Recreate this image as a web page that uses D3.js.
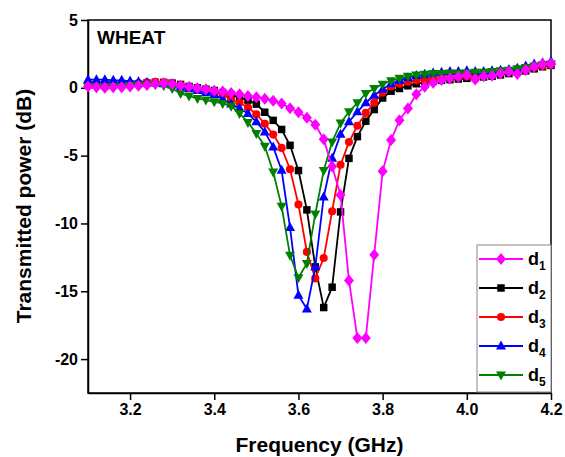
<!DOCTYPE html>
<html><head><meta charset="utf-8">
<script src="https://cdn.jsdelivr.net/npm/d3@7"></script>
<style>body{margin:0;background:#fff}svg{display:block}text{font-family:"Liberation Sans",Arial,sans-serif;font-weight:bold}</style>
</head><body>
<script>
const freq = [3.10,3.12,3.14,3.16,3.18,3.20,3.22,3.24,3.26,3.28,3.30,3.32,3.34,3.36,3.38,3.40,3.42,3.44,3.46,3.48,3.50,3.52,3.54,3.56,3.58,3.60,3.62,3.64,3.66,3.68,3.70,3.72,3.74,3.76,3.78,3.80,3.82,3.84,3.86,3.88,3.90,3.92,3.94,3.96,3.98,4.00,4.02,4.04,4.06,4.08,4.10,4.12,4.14,4.16,4.18,4.20];
const d1 = [0.1,0.05,0.0,0.05,0.05,0.1,0.15,0.2,0.3,0.33,0.28,0.16,0.08,-0.04,-0.11,-0.21,-0.28,-0.38,-0.48,-0.6,-0.7,-0.8,-0.96,-1.15,-1.5,-1.8,-2.2,-2.72,-3.8,-5.8,-7.9,-14.2,-18.45,-18.45,-12.3,-6.16,-3.85,-2.39,-1.53,-0.47,0.07,0.37,0.57,0.69,0.81,0.94,0.62,0.86,0.89,1.06,1.18,1.01,1.31,1.55,1.75,1.8];
const d2 = [0.2,0.2,0.15,0.2,0.25,0.25,0.3,0.35,0.4,0.4,0.35,0.25,0.1,0.0,-0.1,-0.2,-0.35,-0.5,-0.71,-0.91,-1.2,-1.8,-2.4,-3.07,-4.24,-6.1,-9.0,-13.2,-16.2,-14.7,-9.15,-5.2,-3.6,-2.46,-1.6,-0.75,-0.25,-0.05,0.15,0.3,0.4,0.5,0.55,0.6,0.65,0.7,0.75,0.8,0.85,0.95,1.05,1.15,1.25,1.4,1.55,1.65];
const d3v = [0.15,0.2,0.2,0.25,0.3,0.3,0.35,0.4,0.45,0.4,0.3,0.2,0.05,-0.05,-0.15,-0.3,-0.5,-0.9,-1.1,-1.45,-1.95,-2.65,-3.45,-4.43,-6.0,-8.6,-12.1,-14.05,-12.55,-9.1,-5.67,-4.0,-2.8,-1.85,-1.1,-0.35,0.1,0.3,0.45,0.55,0.6,0.65,0.7,0.75,0.8,0.85,0.9,0.95,1.0,1.1,1.2,1.3,1.4,1.5,1.6,1.7];
const d4 = [0.6,0.6,0.6,0.55,0.55,0.5,0.45,0.4,0.35,0.3,0.2,0.05,-0.05,-0.2,-0.35,-0.5,-0.8,-1.2,-1.5,-1.9,-2.5,-3.25,-4.36,-6.08,-10.3,-15.3,-16.3,-13.2,-8.05,-5.2,-3.42,-2.5,-1.77,-1.1,-0.55,-0.1,0.3,0.55,0.75,0.9,1.0,1.1,1.15,1.2,1.2,1.25,1.2,1.2,1.25,1.3,1.35,1.45,1.6,1.75,1.85,1.95];
const d5 = [0.1,0.05,0.05,0.1,0.1,0.15,0.2,0.2,0.25,0.15,-0.05,-0.41,-0.61,-0.78,-0.9,-1.03,-1.15,-1.35,-1.89,-2.55,-3.37,-4.3,-6.2,-8.74,-12.35,-14.0,-12.95,-9.3,-6.1,-4.0,-2.6,-1.77,-1.1,-0.42,-0.05,0.27,0.52,0.7,0.85,0.95,1.0,1.05,1.05,1.1,1.1,1.1,1.15,1.15,1.2,1.25,1.3,1.4,1.5,1.6,1.7,1.75];
const seriesNames = ["1","2","3","4","5"];
const seriesColors = ["#FF00FF","#000000","#FF0000","#0000FF","#008000"];
const seriesShapes = ["diamond","square","circle","triangleUp","triangleDown"];
const drawOrder = [1, 2, 3, 4, 0];
const xTicks = [3.2,3.4,3.6,3.8,4.0,4.2];
const yTicks = [5,0,-5,-10,-15,-20];

const W = 565, H = 457;
const L = 88, R = 551, T = 20, B = 393;
const svg = d3.select("body").append("svg").attr("width", W).attr("height", H);
const x = d3.scaleLinear().domain([3.1, 4.2]).range([L, R]);
const y = d3.scaleLinear().domain([-22.5, 5]).range([B, T]);

const allSeries = [d1, d2, d3v, d4, d5];

function shapePath(shape) {
  switch (shape) {
    case "diamond": return "M0,-6L5,0L0,6L-5,0Z";
    case "square": return d3.symbol(d3.symbolSquare, 56)();
    case "circle": return d3.symbol(d3.symbolCircle, 52)();
    case "triangleUp": return "M0,-5.5L5,3.5L-5,3.5Z";
    case "triangleDown": return "M0,5.5L5,-3.5L-5,-3.5Z";
  }
}

// frame
svg.append("rect").attr("x", L).attr("y", T).attr("width", R - L).attr("height", B - T)
  .attr("fill", "none").attr("stroke", "#000").attr("stroke-width", 1.5);

// axes
const xAxis = d3.axisBottom(x).tickValues(xTicks).tickFormat(d3.format(".1f")).tickSizeInner(7).tickSizeOuter(0).tickPadding(4);
const gx = svg.append("g").attr("transform", `translate(0,${B})`).call(xAxis);
const yAxis = d3.axisLeft(y).tickValues(yTicks).tickFormat(d => d3.format("d")(d)).tickSizeInner(7).tickSizeOuter(0).tickPadding(3);
const gy = svg.append("g").attr("transform", `translate(${L},0)`).call(yAxis);
[gx, gy].forEach(g => {
  g.select(".domain").attr("stroke", "#000").attr("stroke-width", 1.5);
  g.selectAll(".tick line").attr("stroke", "#000").attr("stroke-width", 1.5);
  g.selectAll(".tick text").attr("fill", "#000").style("font-size", "16px").style("font-weight", "bold")
    .style("font-family", '"Liberation Sans", Arial, sans-serif');
});
gy.selectAll(".tick text").text(d => d < 0 ? "-" + Math.abs(d) : d);

// series
const line = d3.line().x((d, i) => x(freq[i])).y(d => y(d));
drawOrder.forEach(k => {
  const vals = allSeries[k];
  const g = svg.append("g");
  g.append("path").datum(vals).attr("d", line).attr("fill", "none")
    .attr("stroke", seriesColors[k]).attr("stroke-width", 1.8);
  g.selectAll("path.m").data(vals).enter().append("path").attr("class", "m")
    .attr("d", shapePath(seriesShapes[k]))
    .attr("transform", (d, i) => `translate(${x(freq[i])},${y(d)})`)
    .attr("fill", seriesColors[k]);
});

// title text
svg.append("text").attr("x", 97).attr("y", 44).style("font-size", "19px").text("WHEAT");

// axis titles
svg.append("text").attr("x", (L + R) / 2).attr("y", 452).attr("text-anchor", "middle")
  .style("font-size", "21px").text("Frequency (GHz)");
svg.append("text").attr("transform", `translate(31,206) rotate(-90)`).attr("text-anchor", "middle")
  .style("font-size", "21px").text("Transmitted power (dB)");

// legend
const lg = svg.append("g");
lg.append("rect").attr("x", 477).attr("y", 245).attr("width", R - 477).attr("height", 147)
  .attr("fill", "#fff").attr("stroke", "#888").attr("stroke-width", 1);
const rowY = d3.scaleLinear().domain([0, 4]).range([259, 375]);
seriesNames.forEach((nm, k) => {
  const yy = rowY(k);
  lg.append("line").attr("x1", 479).attr("x2", 523).attr("y1", yy).attr("y2", yy)
    .attr("stroke", seriesColors[k]).attr("stroke-width", 1.8);
  lg.append("path").attr("d", shapePath(seriesShapes[k])).attr("transform", `translate(501,${yy})`)
    .attr("fill", seriesColors[k]);
  const t = lg.append("text").attr("x", 528).attr("y", yy + 6).style("font-size", "18px");
  t.append("tspan").text("d");
  t.append("tspan").attr("dy", 5).style("font-size", "12px").text(nm);
});
</script>
</body></html>
